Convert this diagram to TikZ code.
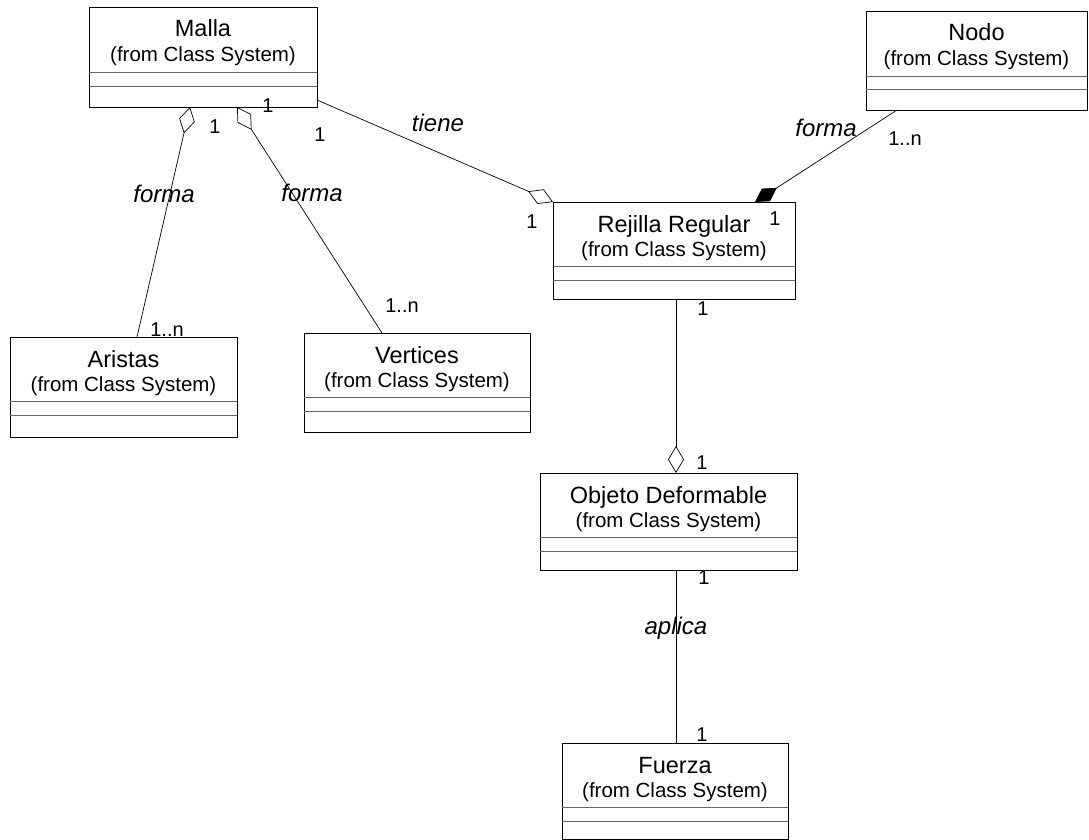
\documentclass[tikz,border=0pt]{standalone}
\usepackage{fontspec}
\setmainfont{Liberation Sans}
\usetikzlibrary{arrows.meta,calc}
\tikzset{
  classbox/.style={draw=black, line width=0.9pt, fill=white, anchor=north west, inner sep=0pt, outer sep=0pt},
  septline/.style={draw=black!60, line width=0.8pt},
  nametext/.style={font=\fontsize{23.5}{28}\selectfont, inner sep=0pt, anchor=base},
  fromtext/.style={font=\fontsize{20.5}{24}\selectfont, inner sep=0pt, anchor=base},
  rolelabel/.style={font=\fontsize{24}{28}\selectfont\itshape, inner sep=0pt},
  multlabel/.style={font=\fontsize{20}{22}\selectfont, inner sep=0pt},
  assoc/.style={draw=black, line width=0.7pt},
  aggtip/.tip={Diamond[open,length=27pt,width=16pt,line width=0.7pt]},
  comptip/.tip={Diamond[length=26pt,width=15pt]},
}
\newcommand\umlclass[8]{% name, x, y, w, h, title, sep1, sep2
  \node[classbox, minimum width=#4pt, minimum height=#5pt] (#1) at (#2,#3) {};
  \node[nametext] (#1-name) at ($(#1.north)+(0,30)$) {#6};
  \node[fromtext] (#1-from) at ($(#1.north)+(0,54.5)$) {(from Class System)};
  \draw[septline] ($(#1.north west)+(0,#7)$) -- ($(#1.north east)+(0,#7)$);
  \draw[septline] ($(#1.north west)+(0,#8)$) -- ($(#1.north east)+(0,#8)$);
}
\begin{document}
\begin{tikzpicture}[x=1pt,y=-1pt]
  \useasboundingbox (0,0) rectangle (1089,840);

  \umlclass{malla}{89}{7}{228}{100}{Malla}{65}{79}
  \umlclass{nodo}{866}{11}{221}{99}{Nodo}{65}{78}
  \umlclass{rejilla}{553}{202}{242}{97}{Rejilla Regular}{64}{78}
  \umlclass{aristas}{10}{337}{227}{100}{Aristas}{64}{78}
  \umlclass{vertices}{304}{333}{226}{99}{Vertices}{64}{78}
  \umlclass{objeto}{540}{473}{257}{97}{Objeto Deformable}{64}{78}
  \umlclass{fuerza}{562}{743}{226}{96}{Fuerza}{64}{78}

  % connectors
  \draw[assoc, aggtip-] ($(malla.south west)+(101,0)$) -- ($(aristas.north west)+(127,0)$);
  \draw[assoc, aggtip-] ($(malla.south west)+(148,0)$) -- ($(vertices.north west)+(78,0)$);
  \draw[assoc, -aggtip] ($(malla.south east)+(0,-7)$) -- (rejilla.north west);
  \draw[assoc, -comptip] ($(nodo.south west)+(31,0)$) -- ($(rejilla.north west)+(202,0)$);
  \draw[assoc, -aggtip] ($(rejilla.south west)+(123,0)$) -- ($(objeto.north west)+(136,0)$);
  \draw[assoc] ($(objeto.south west)+(136,0)$) -- ($(fuerza.north west)+(114,0)$);

  % role labels
  \node[rolelabel] (l-tiene) at (438,123) {tiene};
  \node[rolelabel] (l-forma1) at (826,128) {forma};
  \node[rolelabel] (l-forma2) at (164,194) {forma};
  \node[rolelabel] (l-forma3) at (312,193) {forma};
  \node[rolelabel] (l-aplica) at (676,628) {aplica};

  % multiplicities
  \node[multlabel] (m1) at (268,106) {1};
  \node[multlabel] (m2) at (215,127) {1};
  \node[multlabel] (m3) at (320,135) {1};
  \node[multlabel] (m4) at (532,222) {1};
  \node[multlabel] (m5) at (775,219) {1};
  \node[multlabel] (m6) at (905,139) {1..n};
  \node[multlabel] (m7) at (167,330) {1..n};
  \node[multlabel] (m8) at (402,306) {1..n};
  \node[multlabel] (m9) at (703,309) {1};
  \node[multlabel] (m10) at (702,463) {1};
  \node[multlabel] (m11) at (704,578) {1};
  \node[multlabel] (m12) at (702,735) {1};
\end{tikzpicture}
\end{document}
